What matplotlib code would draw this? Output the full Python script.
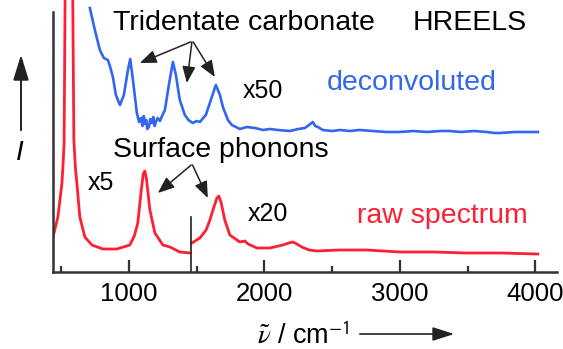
#!/usr/bin/env python3
import matplotlib.pyplot as plt
from matplotlib.patches import FancyArrowPatch

plt.rcParams["font.family"] = ["Liberation Sans", "DejaVu Sans"]
plt.rcParams["mathtext.fontset"] = "stix"

RED = "#ff1f35"
BLUE = "#3366f0"

# raw spectrum, x5 part (below 1458 cm-1)
raw_lo_wn = [440, 476, 506, 516, 522, 530, 557, 585, 594, 605, 616, 638, 675,
             727, 808, 911, 1007, 1040, 1066, 1090, 1106, 1118, 1130, 1155,
             1192, 1251, 1303, 1376, 1450]
raw_lo_int = [35, 55, 89, 112, 130, 290, 700, 290, 132, 105, 89, 55, 35,
              27, 23, 23, 27, 36, 49, 80, 98, 101, 93, 62,
              39, 27, 25, 20, 19]

# raw spectrum, x20 part (above 1458 cm-1)
raw_hi_wn = [1465, 1524, 1570, 1598, 1630, 1650, 1664, 1680, 1708, 1745, 1819,
             1856, 1880, 1945, 2041, 2137, 2180, 2210, 2240, 2277, 2330, 2387,
             2550, 2756, 3000, 3250, 3494, 3750, 4018]
raw_hi_int = [29, 34, 42, 52, 66, 74, 76, 70, 52, 37, 30,
              31, 28, 24, 24, 27, 29, 30, 28, 25, 22, 21,
              22, 22, 20, 20, 19, 19, 18]

# deconvoluted spectrum (x50)
dec_wn = [712, 749, 786, 815, 845, 860, 882, 904, 934, 963, 993, 1010, 1030,
          1059, 1075, 1089, 1100, 1110, 1118, 1128, 1136, 1148, 1158, 1170,
          1180, 1190, 1199, 1212, 1229, 1245, 1266, 1295, 1325, 1347, 1376,
          1413, 1440, 1472, 1500, 1524, 1568, 1605, 1642, 1672, 1694, 1731,
          1760, 1790, 1819, 1870, 1930, 1990, 2041, 2100, 2188, 2250, 2299,
          2330, 2358, 2375, 2395, 2432, 2500, 2560, 2631, 2700, 2800, 2900,
          3000, 3100, 3200, 3300, 3369, 3450, 3550, 3642, 3700, 3738, 3850,
          3950, 4019]
dec_int = [264, 242, 222, 214, 212, 206, 195, 177, 167, 177, 202, 213, 192,
           159, 150, 154, 146, 156, 148, 152, 143, 145, 153, 149,
           155, 146, 150, 154, 151, 156, 162, 187, 210, 197, 172,
           157, 152, 149, 151, 150, 157, 172, 187, 177, 165, 152,
           147, 145, 143, 145, 144, 142, 143, 142, 141, 143, 144,
           147, 150, 146, 145, 142, 141, 142, 141, 142, 141, 140,
           140, 141, 140, 141, 141, 140, 141, 140, 139, 139, 140,
           140, 140]

xticks_major = [1000, 2000, 3000, 4000]
xticks_minor = [500, 1500, 2500, 3500]
split_wn = 1458


def main():
    fig = plt.figure(figsize=(5.63, 3.49), dpi=100)
    ax = fig.add_axes([53 / 563, 1 - 272 / 349, 504 / 563, 272 / 349])

    ax.plot(raw_lo_wn, raw_lo_int, color=RED, lw=2.0, solid_joinstyle="round")
    ax.plot(raw_hi_wn, raw_hi_int, color=RED, lw=2.0, solid_joinstyle="round")
    ax.plot(dec_wn, dec_int, color=BLUE, lw=1.9, solid_joinstyle="round")
    ax.plot([split_wn, split_wn], [0, 55], color="#222222", lw=1.2)

    ax.set_xlim(440, 4160)
    ax.set_ylim(0, 272)
    for side in ("top", "right"):
        ax.spines[side].set_visible(False)
    ax.spines["left"].set_bounds(0, 260)
    for side in ("left", "bottom"):
        ax.spines[side].set_linewidth(1.8)
        ax.spines[side].set_color("#333333")
    ax.set_yticks([])
    ax.set_xticks(xticks_major)
    ax.set_xticks(xticks_minor, minor=True)
    ax.tick_params(axis="x", which="major", direction="in", length=9,
                   width=1.6, labelsize=18.5, pad=7, color="#333333")
    ax.tick_params(axis="x", which="minor", direction="in", length=4,
                   width=1.6, color="#333333")

    big = 20.5
    ax.text(882, 242, "Tridentate carbonate", fontsize=big)
    ax.text(3096, 242, "HREELS", fontsize=big)
    ax.text(2461, 182, "deconvoluted", fontsize=big, color=BLUE)
    ax.text(1841, 174, "x50", fontsize=18)
    ax.text(882, 115, "Surface phonons", fontsize=big)
    ax.text(698, 82, "x5", fontsize=18)
    ax.text(1878, 51, "x20", fontsize=18)
    ax.text(2683, 49, "raw spectrum", fontsize=big, color=RED)

    arrow = dict(arrowstyle="-|>,head_length=1.0,head_width=0.4",
                 color="#222222", lw=1.1, shrinkA=0, shrinkB=0)
    for start, tip in [((1455, 230), (1081, 209)),
                       ((1465, 230), (1428, 189)),
                       ((1475, 230), (1635, 195)),
                       ((1460, 107), (1214, 79)),
                       ((1470, 107), (1583, 74))]:
        ax.annotate("", xy=tip, xytext=start, arrowprops=arrow)

    # axis labels with long arrows
    fig.text(257 / 563, 1 - 344 / 349, r"$\tilde{\nu}$ / cm$^{\mathsf{-1}}$",
             fontsize=19.5, va="baseline")
    fig.patches.append(FancyArrowPatch(
        (357 / 563, 1 - 334 / 349), (457 / 563, 1 - 334 / 349),
        transform=fig.transFigure,
        arrowstyle="-|>,head_length=1.1,head_width=0.35",
        color="#222222", lw=1.2, mutation_scale=12))
    fig.text(20 / 563, 1 - 153 / 349, "I", fontsize=20, style="italic",
             ha="center", va="center")
    fig.patches.append(FancyArrowPatch(
        (21 / 563, 1 - 133 / 349), (21 / 563, 1 - 52 / 349),
        transform=fig.transFigure,
        arrowstyle="-|>,head_length=1.3,head_width=0.4",
        color="#222222", lw=1.4, mutation_scale=12))

    fig.savefig("out.png", dpi=100)


if __name__ == "__main__":
    main()
